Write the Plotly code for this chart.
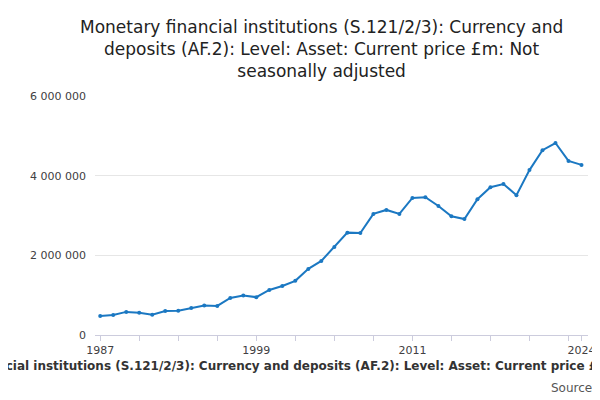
import plotly.graph_objects as go

years = list(range(1987, 2025))
values = [0.48, 0.50, 0.58, 0.56, 0.51, 0.60, 0.61, 0.68, 0.74, 0.73,
          0.93, 0.99, 0.95, 1.13, 1.23, 1.36, 1.66, 1.86, 2.21, 2.57,
          2.56, 3.04, 3.14, 3.04, 3.44, 3.46, 3.24, 2.98, 2.91, 3.41,
          3.71, 3.79, 3.51, 4.14, 4.64, 4.82, 4.37, 4.27]
values = [v * 1e6 for v in values]
xticks = [1987, 1999, 2011, 2024]
yticks = [0, 2000000, 4000000, 6000000]
ytext = ["0", "2 000 000", "4 000 000", "6 000 000"]

fig = go.Figure(go.Scatter(
    x=years, y=values, mode="lines+markers",
    line=dict(color="#1b78c2", width=2),
    marker=dict(size=4, color="#1b78c2"),
    showlegend=False))

fig.update_layout(
    width=600, height=400,
    font=dict(family="DejaVu Sans", color="#414042"),
    paper_bgcolor="white", plot_bgcolor="white",
    margin=dict(l=87, r=20, t=88, b=73),
)
fig.add_annotation(text="Monetary financial institutions (S.121/2/3): Currency and<br>"
                        "deposits (AF.2): Level: Asset: Current price £m: Not<br>seasonally adjusted",
                   x=0.46, y=1.34, xref="paper", yref="paper", showarrow=False,
                   xanchor="center", yanchor="top",
                   font=dict(size=17, color="#222222"))
fig.update_xaxes(range=[1986.6, 2024.5], tickvals=xticks, ticks="outside",
                 ticklen=5, tickcolor="#ccccdd", showline=True, linecolor="#ccccdd",
                 minor=dict(tickvals=list(range(1990, 2024, 3)), ticks="outside",
                            ticklen=5, tickcolor="#ccccdd"),
                 tickfont=dict(size=11), showgrid=False)
fig.update_yaxes(range=[0, 6000000], tickvals=yticks, ticktext=ytext,
                 gridcolor="#e6e6e6", zeroline=False, tickfont=dict(size=11),
                 ticklabelstandoff=8)
fig.add_annotation(text="<b>Monetary financial institutions (S.121/2/3): Currency and deposits (AF.2): Level: Asset: Current price £m: Not seasonally adjusted</b>",
                   x=0.5, y=-0.13, xref="paper", yref="paper", showarrow=False,
                   font=dict(size=12, color="#333333"), xanchor="center", yanchor="middle")
fig.add_annotation(text="Source:", x=1.02, y=-0.22, xref="paper", yref="paper",
                   showarrow=False, xanchor="right", yanchor="middle",
                   font=dict(size=12, color="#555555"))

fig.write_html("out.html")
